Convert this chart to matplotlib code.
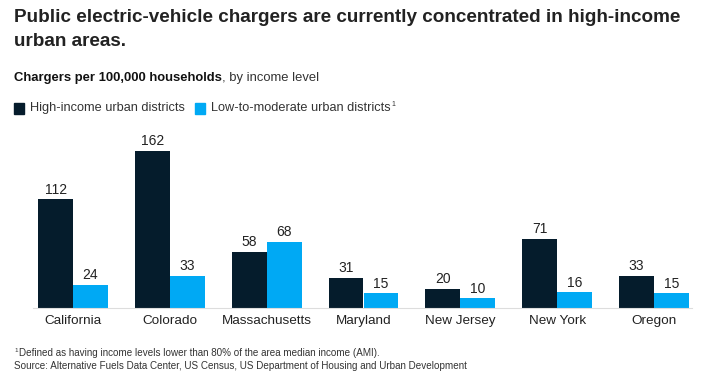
import matplotlib
matplotlib.use("Agg")
import matplotlib.pyplot as plt
import numpy as np

states = ["California", "Colorado", "Massachusetts", "Maryland",
          "New Jersey", "New York", "Oregon"]
high_income = [112, 162, 58, 31, 20, 71, 33]
low_moderate = [24, 33, 68, 15, 10, 16, 15]
series_names = ["High-income urban districts", "Low-to-moderate urban districts"]

CLR_DARK = "#051C2C"
CLR_LIGHT = "#00A9F4"
W, H = 709, 379

plt.rcParams["font.family"] = ["Liberation Sans", "DejaVu Sans"]

fig = plt.figure(figsize=(W / 100, H / 100), dpi=100)


def px(x, y):
    """pixel coords (top-left origin) -> figure fraction"""
    return x / W, 1 - y / H


def right_edge(t):
    r = fig.canvas.get_renderer()
    return t.get_window_extent(renderer=r).x1 / W


# title
fig.text(*px(14, 18), "Public electric-vehicle chargers are currently concentrated in high-income",
         fontsize=13.55, fontweight="bold", color="#222222", va="center")
fig.text(*px(14, 42), "urban areas.",
         fontsize=13.55, fontweight="bold", color="#222222", va="center")

# subtitle
t = fig.text(*px(14, 78), "Chargers per 100,000 households", fontsize=9.4,
             fontweight="bold", color="#111111", va="center")
fig.text(right_edge(t), 1 - 78 / H, ", by income level", fontsize=9.4,
         color="#333333", va="center")

# legend
for sx, col in [(14, CLR_DARK), (195, CLR_LIGHT)]:
    fig.patches.append(plt.Rectangle(px(sx, 114), 10 / W, 11 / H, color=col,
                                     transform=fig.transFigure, figure=fig))
fig.text(*px(30, 108), series_names[0], fontsize=9.2, color="#333333", va="center")
t2 = fig.text(*px(211, 108), series_names[1], fontsize=9.2, color="#333333", va="center")
fig.text(right_edge(t2) + 0.0005, 1 - 104 / H, "1", fontsize=5, color="#333333", va="center")

# bars
ax_left, ax_right = 24.6, 702.4
ax_bottom, ax_top = 308, 130
ax = fig.add_axes([ax_left / W, 1 - ax_bottom / H,
                   (ax_right - ax_left) / W, (ax_bottom - ax_top) / H])
x = np.arange(len(states))
bw = 0.36
b1 = ax.bar(x - bw / 2, high_income, bw, color=CLR_DARK)
b2 = ax.bar(x + bw / 2, low_moderate, bw, color=CLR_LIGHT)
for bars, vals in [(b1, high_income), (b2, low_moderate)]:
    for rect, v in zip(bars, vals):
        ax.annotate(f"{v}", (rect.get_x() + rect.get_width() / 2, v),
                    xytext=(0, 2), textcoords="offset points",
                    ha="center", va="bottom", fontsize=10, color="#222222")

ax.set_xlim(-0.5, 6.5)
ax.set_ylim(0, 178 / 0.969)
ax.set_xticks(x)
ax.set_xticklabels(states, fontsize=9.7, color="#222222")
ax.tick_params(axis="x", length=0, pad=5)
ax.set_yticks([])
for side in ["top", "left", "right"]:
    ax.spines[side].set_visible(False)
ax.spines["bottom"].set_color("#DDDDDD")
ax.spines["bottom"].set_linewidth(0.8)
ax.spines["bottom"].set_bounds(-0.413, 6.395)
ax.patch.set_visible(False)

# footnotes
fig.text(*px(19, 353), "Defined as having income levels lower than 80% of the area median income (AMI).",
         fontsize=7.1, color="#333333", va="center")
fig.text(*px(14, 350), "1", fontsize=4.5, color="#333333", va="center")
fig.text(*px(14, 366), "Source: Alternative Fuels Data Center, US Census, US Department of Housing and Urban Development",
         fontsize=7.1, color="#333333", va="center")

fig.savefig("out.png", dpi=100)
